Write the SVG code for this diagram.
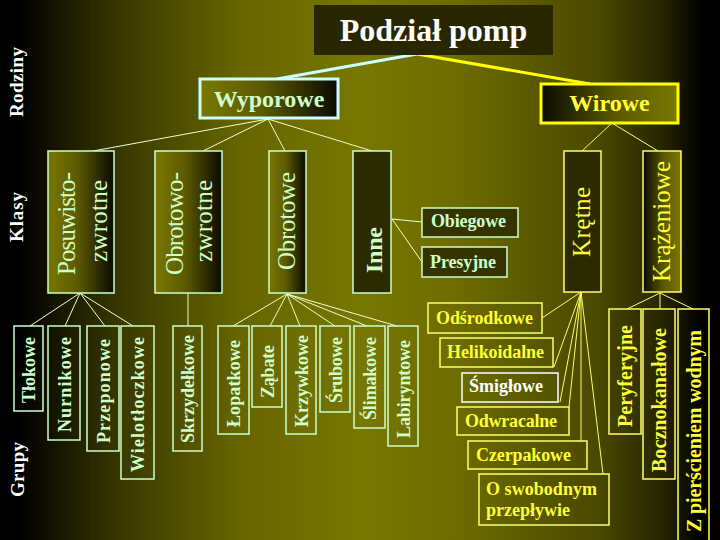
<svg xmlns="http://www.w3.org/2000/svg" width="720" height="540" viewBox="0 0 720 540">
<defs>
<linearGradient id="bg" x1="0" y1="0" x2="720" y2="0" gradientUnits="userSpaceOnUse">
<stop offset="0" stop-color="#000000"/>
<stop offset="0.025" stop-color="#000000"/>
<stop offset="0.17" stop-color="#3a3900"/>
<stop offset="0.33" stop-color="#666500"/>
<stop offset="0.5" stop-color="#787700"/>
<stop offset="0.63" stop-color="#6e6d00"/>
<stop offset="0.83" stop-color="#4a4900"/>
<stop offset="0.92" stop-color="#262500"/>
<stop offset="0.975" stop-color="#000000"/>
</linearGradient>
<linearGradient id="oliveToBlack" x1="0" y1="0" x2="1" y2="0">
<stop offset="0" stop-color="#7a7800"/>
<stop offset="0.45" stop-color="#5c5a00"/>
<stop offset="1" stop-color="#0a0a00"/>
</linearGradient>
<linearGradient id="blackToOlive" x1="0" y1="0" x2="1" y2="0">
<stop offset="0" stop-color="#0a0a00"/>
<stop offset="0.55" stop-color="#5c5a00"/>
<stop offset="1" stop-color="#7a7800"/>
</linearGradient>
</defs>
<style>
.serif{font-family:"Liberation Serif","Times New Roman",serif;}
.b{font-weight:bold;}
.mint{fill:#ccffcc;}
.yel{fill:#ffff33;}
.wht{fill:#ffffff;}
.boxM{fill:none;stroke:#ccffcc;stroke-width:1.5;}
.boxY{fill:none;stroke:#ffff66;stroke-width:1.5;}
.cl{stroke:#eeffcc;stroke-width:1;fill:none;}
.cy{stroke:#ffff66;stroke-width:1;fill:none;}
.big{font-size:25px;}
.mid{font-size:18px;}
.lbl{font-size:19px;}
</style>
<rect x="0" y="0" width="720" height="540" fill="url(#bg)"/>

<g id="connectors">
<line x1="277" y1="79" x2="417" y2="54" stroke="#ccffff" stroke-width="3"/>
<line x1="417" y1="54" x2="590" y2="84" stroke="#ffff00" stroke-width="3"/>
<line class="cl" x1="268" y1="119" x2="93" y2="151"/>
<line class="cl" x1="268" y1="119" x2="203" y2="151"/>
<line class="cl" x1="268" y1="119" x2="285" y2="151"/>
<line class="cl" x1="268" y1="119" x2="372" y2="151"/>
<line class="cl" x1="392" y1="219" x2="422" y2="222"/>
<line class="cl" x1="392" y1="219" x2="422" y2="262"/>
<line class="cy" x1="612" y1="123" x2="582" y2="151"/>
<line class="cy" x1="612" y1="123" x2="658" y2="151"/>
<line class="cl" x1="80" y1="293" x2="30" y2="326"/>
<line class="cl" x1="80" y1="293" x2="65" y2="326"/>
<line class="cl" x1="80" y1="293" x2="105" y2="326"/>
<line class="cl" x1="80" y1="293" x2="133" y2="326"/>
<line class="cl" x1="188" y1="293" x2="188" y2="326"/>
<line class="cl" x1="287" y1="294" x2="233" y2="326"/>
<line class="cl" x1="287" y1="294" x2="270" y2="326"/>
<line class="cl" x1="287" y1="294" x2="300" y2="326"/>
<line class="cl" x1="287" y1="294" x2="335" y2="326"/>
<line class="cl" x1="287" y1="294" x2="367" y2="326"/>
<line class="cl" x1="287" y1="294" x2="397" y2="326"/>
<line class="cy" x1="581" y1="292" x2="542" y2="318"/>
<line class="cy" x1="581" y1="292" x2="554" y2="367"/>
<line class="cy" x1="581" y1="292" x2="560" y2="402"/>
<line class="cy" x1="581" y1="292" x2="569" y2="407"/>
<line class="cy" x1="581" y1="292" x2="581" y2="441"/>
<line class="cy" x1="581" y1="292" x2="603" y2="474"/>
<line class="cy" x1="660" y1="293" x2="627" y2="309"/>
<line class="cy" x1="660" y1="293" x2="660" y2="309"/>
<line class="cy" x1="660" y1="293" x2="693" y2="309"/>
</g>

<g id="title">
<rect x="314" y="5" width="239" height="50" fill="#292700"/>
<text class="serif b wht" x="433.5" y="41" font-size="32" text-anchor="middle">Podział pomp</text>
</g>

<g id="row-labels">
<text class="serif b wht lbl" transform="translate(23,117) rotate(-90)" textLength="70" lengthAdjust="spacing">Rodziny</text>
<text class="serif b wht lbl" transform="translate(23,242) rotate(-90)" textLength="50" lengthAdjust="spacing">Klasy</text>
<text class="serif b wht lbl" transform="translate(24,497) rotate(-90)" textLength="55" lengthAdjust="spacing">Grupy</text>
</g>

<g id="wyporowe">
<rect x="200" y="79" width="138" height="39" fill="url(#oliveToBlack)" stroke="#ccffff" stroke-width="3"/>
<text class="serif b mint" x="269" y="107" font-size="24" text-anchor="middle">Wyporowe</text>
</g>
<g id="wirowe">
<rect x="541" y="84" width="137" height="39" fill="url(#blackToOlive)" stroke="#ffff00" stroke-width="3"/>
<text class="serif b yel" x="609.5" y="111" font-size="24" text-anchor="middle">Wirowe</text>
</g>

<g id="posuwisto-zwrotne">
<rect x="48" y="151" width="66" height="142" fill="url(#oliveToBlack)" stroke="#ccffcc" stroke-width="1.5"/>
<text class="serif mint big" transform="translate(75,275) rotate(-90)" textLength="103" lengthAdjust="spacing">Posuwisto-</text>
<text class="serif mint big" transform="translate(107,262) rotate(-90)" textLength="82" lengthAdjust="spacing">zwrotne</text>
</g>
<g id="obrotowo-zwrotne">
<rect x="155" y="151" width="67" height="142" fill="url(#oliveToBlack)" stroke="#ccffcc" stroke-width="1.5"/>
<text class="serif mint big" transform="translate(183,275) rotate(-90)" textLength="103" lengthAdjust="spacing">Obrotowo-</text>
<text class="serif mint big" transform="translate(212,262) rotate(-90)" textLength="82" lengthAdjust="spacing">zwrotne</text>
</g>
<g id="obrotowe">
<rect x="269" y="151" width="37" height="142" fill="url(#oliveToBlack)" stroke="#ccffcc" stroke-width="1.5"/>
<text class="serif mint big" transform="translate(295,270) rotate(-90)" textLength="98" lengthAdjust="spacing">Obrotowe</text>
</g>
<g id="inne">
<rect x="353" y="151" width="38" height="142" fill="#2b2a00" stroke="#ccffcc" stroke-width="1.5"/>
<text class="serif b mint" font-size="24" transform="translate(382,273) rotate(-90)" textLength="46" lengthAdjust="spacing">Inne</text>
</g>
<g id="obiegowe">
<rect x="422" y="208" width="96" height="29" fill="#353400" stroke="#ccffcc" stroke-width="1.5"/>
<text class="serif b mint mid" x="431" y="227" textLength="75" lengthAdjust="spacing">Obiegowe</text>
</g>
<g id="presyjne">
<rect x="422" y="247" width="85" height="30" fill="#353400" stroke="#ccffcc" stroke-width="1.5"/>
<text class="serif b mint mid" x="430" y="268" textLength="66" lengthAdjust="spacing">Presyjne</text>
</g>
<g id="kretne">
<rect x="564" y="151" width="37" height="141" fill="#2b2a00" stroke="#ffff66" stroke-width="1.5"/>
<text class="serif yel big" transform="translate(590,257) rotate(-90)" textLength="70" lengthAdjust="spacing">Krętne</text>
</g>
<g id="krazeniowe">
<rect x="643" y="151" width="38" height="141" fill="url(#blackToOlive)" stroke="#ffff66" stroke-width="1.5"/>
<text class="serif yel big" transform="translate(670,282) rotate(-90)" textLength="121" lengthAdjust="spacing">Krążeniowe</text>
</g>

<g id="tlokowe"><rect class="boxM" x="14" y="326" width="29" height="85"/><text class="serif b mint mid" transform="translate(35,403) rotate(-90)" textLength="66" lengthAdjust="spacing">Tłokowe</text></g>
<g id="nurnikowe"><rect class="boxM" x="48" y="326" width="32" height="114"/><text class="serif b mint mid" transform="translate(70.5,432) rotate(-90)" textLength="95" lengthAdjust="spacing">Nurnikowe</text></g>
<g id="przeponowe"><rect class="boxM" x="87" y="326" width="32" height="125"/><text class="serif b mint mid" transform="translate(109.5,443) rotate(-90)" textLength="104" lengthAdjust="spacing">Przeponowe</text></g>
<g id="wielotloczkowe"><rect class="boxM" x="121" y="326" width="33" height="153"/><text class="serif b mint mid" transform="translate(144,472) rotate(-90)" textLength="135" lengthAdjust="spacing">Wielotłoczkowe</text></g>
<g id="skrzydelkowe"><rect class="boxM" x="173" y="326" width="29" height="125"/><text class="serif b mint mid" transform="translate(194,443) rotate(-90)" textLength="108" lengthAdjust="spacing">Skrzydełkowe</text></g>
<g id="lopatkowe"><rect class="boxM" x="218" y="326" width="31" height="108"/><text class="serif b mint mid" transform="translate(240,427) rotate(-90)" textLength="87" lengthAdjust="spacing">Łopatkowe</text></g>
<g id="zabate"><rect class="boxM" x="252" y="326" width="30" height="81"/><text class="serif b mint mid" transform="translate(273.5,398) rotate(-90)" textLength="53" lengthAdjust="spacing">Ząbate</text></g>
<g id="krzywkowe"><rect class="boxM" x="286" y="326" width="30" height="108"/><text class="serif b mint mid" transform="translate(307.5,427) rotate(-90)" textLength="92" lengthAdjust="spacing">Krzywkowe</text></g>
<g id="srubowe"><rect class="boxM" x="320" y="326" width="30" height="86"/><text class="serif b mint mid" transform="translate(341.5,403) rotate(-90)" textLength="66" lengthAdjust="spacing">Śrubowe</text></g>
<g id="slimakowe"><rect class="boxM" x="354" y="326" width="31" height="102"/><text class="serif b mint mid" transform="translate(376,420) rotate(-90)" textLength="83" lengthAdjust="spacing">Ślimakowe</text></g>
<g id="labiryntowe"><rect class="boxM" x="388" y="326" width="30" height="120"/><text class="serif b mint mid" transform="translate(409.5,438) rotate(-90)" textLength="98" lengthAdjust="spacing">Labiryntowe</text></g>

<g id="odsrodkowe"><rect class="boxY" x="428" y="303" width="114" height="30"/><text class="serif b yel mid" x="436" y="324" textLength="97" lengthAdjust="spacing">Odśrodkowe</text></g>
<g id="helikoidalne"><rect class="boxY" x="440" y="338" width="113" height="29"/><text class="serif b yel mid" x="447" y="358" textLength="97" lengthAdjust="spacing">Helikoidalne</text></g>
<g id="smiglowe"><rect x="462" y="373" width="96" height="29" fill="none" stroke="#ffffff" stroke-width="1.5"/><text class="serif b wht mid" x="469" y="392" textLength="74" lengthAdjust="spacing">Śmigłowe</text></g>
<g id="odwracalne"><rect class="boxY" x="457" y="407" width="112" height="28"/><text class="serif b yel mid" x="465" y="427" textLength="92" lengthAdjust="spacing">Odwracalne</text></g>
<g id="czerpakowe"><rect class="boxY" x="468" y="441" width="119" height="28"/><text class="serif b yel mid" x="476" y="461" textLength="95" lengthAdjust="spacing">Czerpakowe</text></g>
<g id="o-swobodnym"><rect class="boxY" x="479" y="474" width="130" height="51"/><text class="serif b yel mid" x="486" y="495" textLength="111" lengthAdjust="spacing">O swobodnym</text><text class="serif b yel mid" x="486" y="516" textLength="84" lengthAdjust="spacing">przepływie</text></g>

<g id="peryferyjne"><rect class="boxY" x="609" y="309" width="32" height="125"/><text class="serif b yel" font-size="20" transform="translate(632,427) rotate(-90)" textLength="102" lengthAdjust="spacing">Peryferyjne</text></g>
<g id="bocznokanalowe"><rect class="boxY" x="643" y="309" width="32" height="170"/><text class="serif b yel" font-size="20" transform="translate(666,472) rotate(-90)" textLength="144" lengthAdjust="spacing">Bocznokanałowe</text></g>
<g id="z-pierscieniem"><rect class="boxY" x="678" y="309" width="31" height="240"/><text class="serif b yel" font-size="20" transform="translate(701,532) rotate(-90)" textLength="202" lengthAdjust="spacing">Z pierścieniem wodnym</text></g>
</svg>
